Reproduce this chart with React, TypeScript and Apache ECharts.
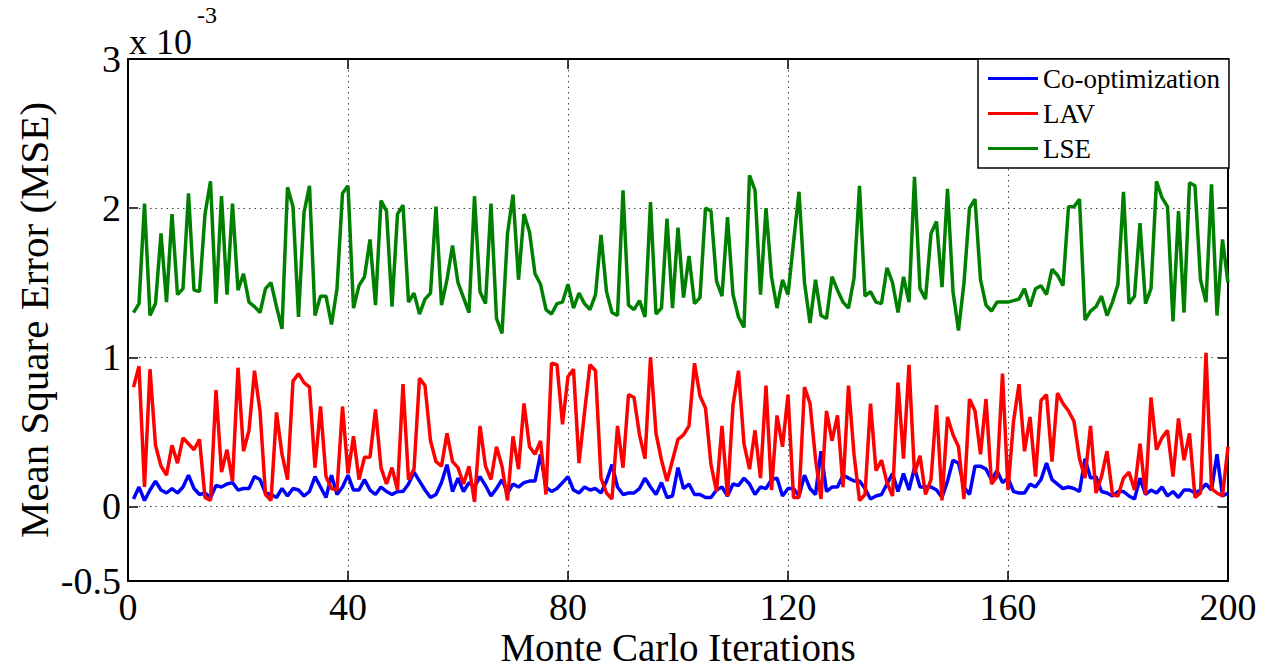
import React, { useEffect, useRef } from "react";
import * as echarts from "echarts";

// Mean square error (x 10^-3) for each Monte Carlo iteration 1..200
const coOptimization: number[] = [
  0.05, 0.13, 0.04, 0.11, 0.17, 0.11, 0.09, 0.12, 0.09, 0.13, 0.21, 0.12, 0.08, 0.09, 0.06, 0.14, 0.13, 0.15, 0.16, 0.11,
  0.12, 0.12, 0.20, 0.18, 0.09, 0.08, 0.06, 0.12, 0.07, 0.12, 0.11, 0.07, 0.10, 0.20, 0.13, 0.06, 0.21, 0.08, 0.13, 0.21,
  0.11, 0.11, 0.18, 0.11, 0.08, 0.13, 0.10, 0.08, 0.10, 0.10, 0.15, 0.23, 0.17, 0.11, 0.06, 0.08, 0.16, 0.28, 0.10, 0.19,
  0.10, 0.16, 0.13, 0.20, 0.14, 0.07, 0.12, 0.18, 0.09, 0.15, 0.13, 0.16, 0.17, 0.17, 0.35, 0.13, 0.10, 0.12, 0.16, 0.20,
  0.11, 0.09, 0.13, 0.11, 0.12, 0.09, 0.17, 0.28, 0.13, 0.08, 0.09, 0.09, 0.12, 0.19, 0.13, 0.08, 0.16, 0.06, 0.07, 0.26,
  0.12, 0.15, 0.08, 0.08, 0.06, 0.06, 0.11, 0.13, 0.07, 0.15, 0.14, 0.19, 0.15, 0.08, 0.13, 0.12, 0.18, 0.19, 0.07, 0.12,
  0.12, 0.07, 0.21, 0.12, 0.08, 0.37, 0.10, 0.13, 0.13, 0.21, 0.19, 0.17, 0.17, 0.12, 0.05, 0.07, 0.08, 0.15, 0.22, 0.10,
  0.22, 0.11, 0.26, 0.13, 0.13, 0.13, 0.11, 0.06, 0.17, 0.31, 0.29, 0.13, 0.08, 0.27, 0.27, 0.25, 0.18, 0.24, 0.16, 0.19,
  0.10, 0.09, 0.09, 0.15, 0.13, 0.18, 0.29, 0.18, 0.15, 0.12, 0.13, 0.12, 0.10, 0.32, 0.19, 0.20, 0.10, 0.09, 0.07, 0.10,
  0.10, 0.07, 0.05, 0.19, 0.08, 0.11, 0.09, 0.13, 0.07, 0.10, 0.06, 0.11, 0.11, 0.09, 0.11, 0.15, 0.11, 0.35, 0.07, 0.09,
];

const lav: number[] = [
  0.80, 0.94, 0.13, 0.92, 0.41, 0.27, 0.21, 0.41, 0.29, 0.46, 0.42, 0.38, 0.45, 0.06, 0.04, 0.78, 0.23, 0.38, 0.17, 0.93,
  0.37, 0.51, 0.91, 0.64, 0.08, 0.04, 0.63, 0.35, 0.18, 0.84, 0.89, 0.83, 0.80, 0.26, 0.67, 0.20, 0.12, 0.11, 0.67, 0.22,
  0.47, 0.18, 0.33, 0.33, 0.65, 0.26, 0.15, 0.26, 0.11, 0.82, 0.18, 0.25, 0.86, 0.81, 0.44, 0.30, 0.27, 0.49, 0.30, 0.26,
  0.15, 0.27, 0.03, 0.54, 0.27, 0.18, 0.40, 0.27, 0.04, 0.47, 0.25, 0.69, 0.40, 0.35, 0.44, 0.08, 0.96, 0.95, 0.55, 0.87,
  0.92, 0.29, 0.63, 0.95, 0.91, 0.19, 0.09, 0.05, 0.54, 0.26, 0.75, 0.73, 0.48, 0.32, 1.00, 0.49, 0.31, 0.17, 0.31, 0.45,
  0.48, 0.54, 0.96, 0.74, 0.66, 0.28, 0.10, 0.54, 0.07, 0.68, 0.91, 0.42, 0.25, 0.51, 0.19, 0.81, 0.11, 0.61, 0.40, 0.75,
  0.06, 0.06, 0.80, 0.69, 0.32, 0.05, 0.64, 0.44, 0.61, 0.13, 0.81, 0.35, 0.04, 0.08, 0.69, 0.24, 0.31, 0.16, 0.07, 0.83,
  0.32, 0.95, 0.22, 0.34, 0.08, 0.18, 0.68, 0.04, 0.60, 0.48, 0.40, 0.05, 0.72, 0.64, 0.35, 0.72, 0.15, 0.20, 0.89, 0.11,
  0.57, 0.82, 0.37, 0.60, 0.20, 0.71, 0.75, 0.30, 0.76, 0.69, 0.64, 0.57, 0.32, 0.19, 0.54, 0.09, 0.20, 0.37, 0.08, 0.07,
  0.19, 0.23, 0.11, 0.42, 0.08, 0.73, 0.38, 0.46, 0.51, 0.20, 0.59, 0.31, 0.49, 0.06, 0.09, 1.03, 0.12, 0.09, 0.07, 0.40,
];

const lse: number[] = [
  1.30, 1.36, 2.03, 1.28, 1.36, 1.83, 1.37, 1.96, 1.42, 1.46, 2.10, 1.45, 1.44, 1.96, 2.18, 1.36, 2.08, 1.42, 2.03, 1.45,
  1.56, 1.37, 1.34, 1.30, 1.46, 1.50, 1.34, 1.19, 2.14, 2.01, 1.27, 1.97, 2.15, 1.28, 1.41, 1.41, 1.22, 1.46, 2.10, 2.15,
  1.33, 1.48, 1.54, 1.79, 1.35, 2.05, 1.98, 1.34, 1.96, 2.02, 1.37, 1.43, 1.29, 1.39, 1.43, 2.01, 1.35, 1.52, 1.75, 1.50,
  1.40, 1.30, 2.08, 1.44, 1.36, 2.03, 1.26, 1.16, 1.83, 2.09, 1.52, 1.96, 1.84, 1.56, 1.49, 1.32, 1.29, 1.36, 1.37, 1.49,
  1.33, 1.43, 1.36, 1.32, 1.42, 1.82, 1.44, 1.30, 1.28, 2.12, 1.35, 1.32, 1.38, 1.27, 2.04, 1.29, 1.33, 1.93, 1.33, 1.87,
  1.40, 1.68, 1.36, 1.40, 2.00, 1.98, 1.51, 1.41, 1.94, 1.42, 1.27, 1.20, 2.22, 2.12, 1.42, 2.00, 1.54, 1.33, 1.52, 1.42,
  1.77, 2.11, 1.50, 1.23, 1.52, 1.28, 1.26, 1.54, 1.45, 1.37, 1.33, 1.53, 2.15, 1.41, 1.44, 1.37, 1.36, 1.60, 1.50, 1.30,
  1.54, 1.37, 2.21, 1.46, 1.39, 1.83, 1.91, 1.47, 2.13, 1.44, 1.18, 1.50, 2.00, 2.06, 1.52, 1.35, 1.31, 1.37, 1.37, 1.37,
  1.38, 1.39, 1.46, 1.34, 1.46, 1.48, 1.42, 1.59, 1.55, 1.48, 2.01, 2.01, 2.06, 1.25, 1.31, 1.34, 1.41, 1.28, 1.37, 1.49,
  2.11, 1.36, 1.41, 1.90, 1.36, 1.46, 2.18, 2.07, 2.01, 1.24, 1.98, 1.30, 2.17, 2.15, 1.52, 1.37, 2.16, 1.28, 1.79, 1.50,
];

const seriesNames = ["Co-optimization", "LAV", "LSE"];
const seriesColors = ["#0000ff", "#ff0000", "#008000"];
const yLabelValues = [-0.5, 0, 1, 2, 3];
const yGridValues = [0, 1, 2];
const xTickValues = [0, 40, 80, 120, 160, 200];

const FONT = "Liberation Serif";

function toPoints(values: number[]) {
  return values.map((v, i) => [i + 1, v]);
}

export default function App() {
  const ref = useRef<HTMLDivElement>(null);

  useEffect(() => {
    if (!ref.current) return;
    const chart = echarts.init(ref.current, null, { renderer: "svg" });
    const allSeries = [coOptimization, lav, lse];

    const gridDotted = {
      color: "#444",
      width: 1,
      type: [1.5, 4] as any,
    };

    const option: any = {
      animation: false,
      backgroundColor: "#ffffff",
      textStyle: { fontFamily: FONT },
      grid: {
        left: 128,
        right: 35,
        top: 59,
        bottom: 86,
        containLabel: false,
        outerBoundsMode: "none",
      },
      legend: {
        show: true,
        orient: "vertical",
        left: 978,
        top: 59,
        padding: [6, 9, 6, 10],
        icon: "rect",
        itemWidth: 50,
        itemHeight: 3,
        itemGap: 8,
        itemTextGap: 5,
        borderColor: "#000",
        borderWidth: 1.5,
        borderRadius: 0,
        backgroundColor: "#fff",
        data: seriesNames,
        textStyle: { fontFamily: FONT, fontSize: 27, lineHeight: 27, color: "#000" },
      },
      xAxis: [
        {
          type: "value",
          min: 0,
          max: 200,
          interval: 40,
          name: "Monte Carlo Iterations",
          nameLocation: "middle",
          nameGap: 51,
          nameMoveOverlap: false,
          nameTextStyle: { fontFamily: FONT, fontSize: 39, lineHeight: 30, color: "#000" },
          axisLine: { show: true, onZero: false, lineStyle: { color: "#000", width: 2 } },
          axisTick: { show: true, inside: true, length: 10, lineStyle: { color: "#000", width: 1.5 } },
          axisLabel: {
            show: true,
            fontFamily: FONT,
            fontSize: 38,
            lineHeight: 28,
            color: "#000",
            margin: 12,
            customValues: xTickValues,
          },
          splitLine: { show: true, lineStyle: gridDotted },
        },
        {
          type: "value",
          position: "top",
          min: 0,
          max: 200,
          interval: 40,
          axisLine: { show: true, onZero: false, lineStyle: { color: "#000", width: 2 } },
          axisTick: { show: true, inside: true, length: 10, lineStyle: { color: "#000", width: 1.5 } },
          axisLabel: { show: false },
          splitLine: { show: false },
        },
      ],
      yAxis: [
        {
          type: "value",
          min: -0.5,
          max: 3,
          interval: 0.5,
          name: "Mean Square Error (MSE)",
          nameLocation: "middle",
          nameGap: 74,
          nameMoveOverlap: false,
          nameRotate: 90,
          nameTextStyle: { fontFamily: FONT, fontSize: 41, color: "#000" },
          axisLine: { show: true, onZero: false, lineStyle: { color: "#000", width: 2 } },
          axisTick: {
            show: true,
            inside: true,
            length: 10,
            customValues: yGridValues,
            lineStyle: { color: "#000", width: 1.5 },
          },
          axisLabel: {
            show: true,
            fontFamily: FONT,
            fontSize: 38,
            color: "#000",
            margin: 7,
            customValues: yLabelValues,
            formatter: (v: number) => (yLabelValues.includes(v) ? String(v) : ""),
          },
          splitLine: { show: false },
        },
        {
          type: "value",
          position: "right",
          min: -0.5,
          max: 3,
          interval: 0.5,
          axisLine: { show: true, onZero: false, lineStyle: { color: "#000", width: 2 } },
          axisTick: {
            show: true,
            inside: true,
            length: 10,
            customValues: yGridValues,
            lineStyle: { color: "#000", width: 1.5 },
          },
          axisLabel: { show: false },
          splitLine: { show: false },
        },
      ],
      graphic: [
        {
          type: "text",
          x: 129,
          y: 42,
          style: {
            text: "x 10",
            fontFamily: FONT,
            fontSize: 36,
            fill: "#000",
            verticalAlign: "middle",
            align: "left",
          },
        },
        {
          type: "text",
          x: 197,
          y: 15,
          style: {
            text: "-3",
            fontFamily: FONT,
            fontSize: 24,
            fill: "#000",
            verticalAlign: "middle",
            align: "left",
          },
        },
      ],
      series: allSeries.map((vals, idx) => ({
        name: seriesNames[idx],
        type: "line",
        xAxisIndex: 0,
        yAxisIndex: 0,
        data: toPoints(vals),
        symbol: "none",
        showSymbol: false,
        smooth: false,
        z: 3 + idx,
        lineStyle: { color: seriesColors[idx], width: 3.5 },
        itemStyle: { color: seriesColors[idx] },
        emphasis: { disabled: true },
        ...(idx === 0
          ? {
              markLine: {
                silent: true,
                symbol: ["none", "none"],
                z: 1,
                label: { show: false },
                lineStyle: gridDotted,
                data: yGridValues.map((v) => ({ yAxis: v })),
              },
            }
          : {}),
      })),
    };

    chart.setOption(option);
    return () => {
      chart.dispose();
    };
  }, []);

  return (
    <div
      ref={ref}
      style={{ position: "fixed", left: 0, top: 0, width: 1263, height: 667, background: "#fff" }}
    />
  );
}
